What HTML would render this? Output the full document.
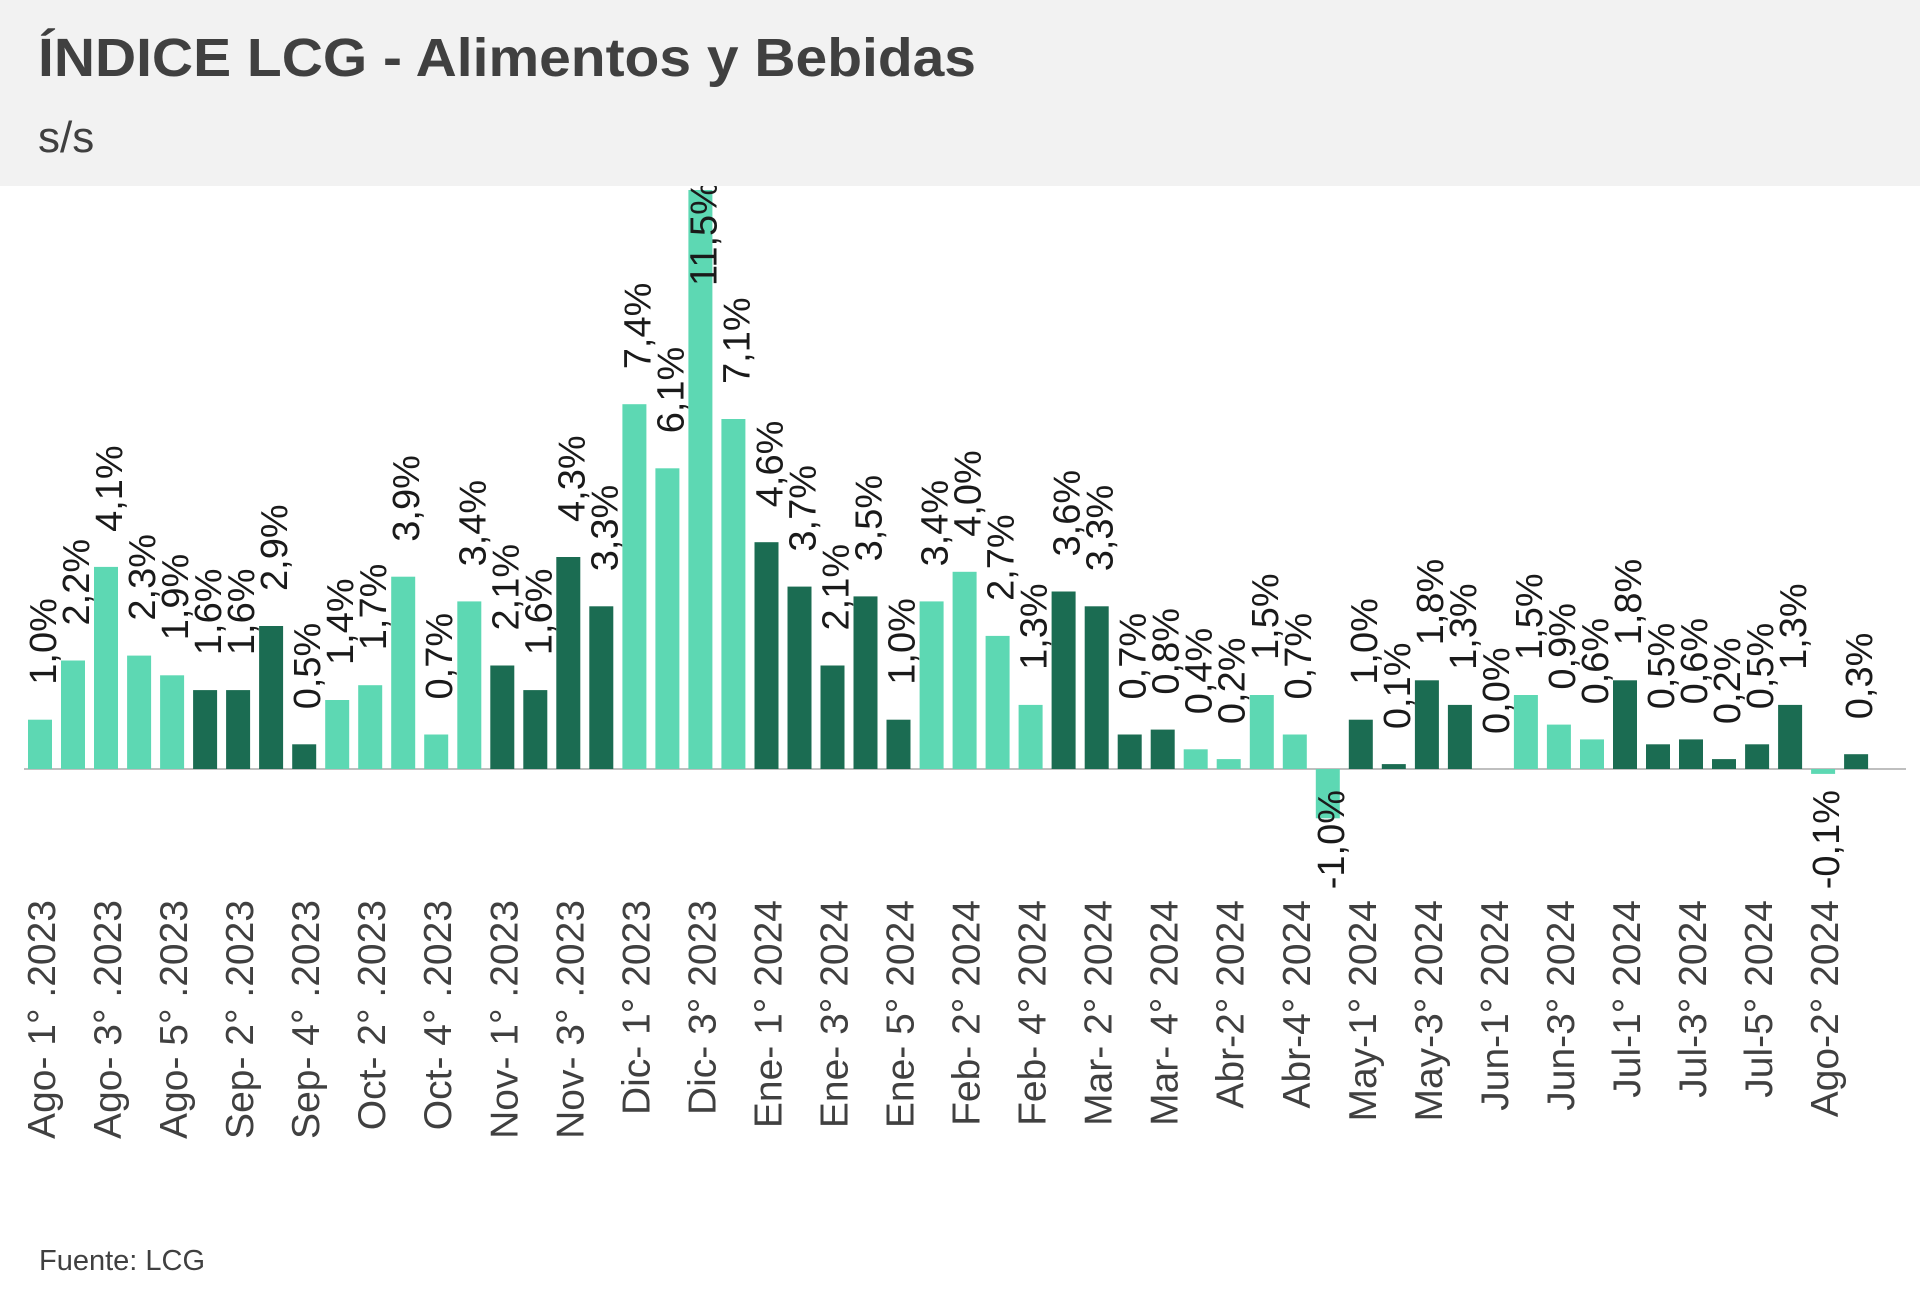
<!DOCTYPE html>
<html><head><meta charset="utf-8"><style>
html,body{margin:0;padding:0;background:#fff;}
svg{display:block;}
.v{font:38px "Liberation Sans",sans-serif;fill:#1a1a1a;}
.x{font:39px "Liberation Sans",sans-serif;fill:#404040;}
.L{fill:#5dd8b3;}.D{fill:#1b6c52;}
</style></head><body>
<svg width="1920" height="1303" viewBox="0 0 1920 1303" xmlns="http://www.w3.org/2000/svg">
<rect width="1920" height="1303" fill="#fff"/>
<line x1="24" y1="769" x2="1906" y2="769" stroke="#bfbfbf" stroke-width="2"/>
<g>
<rect class="L" x="28" y="719.7" width="24" height="49.3"/>
<rect class="L" x="61" y="660.5" width="24" height="108.5"/>
<rect class="L" x="94" y="566.9" width="24" height="202.1"/>
<rect class="L" x="127.1" y="655.6" width="24" height="113.4"/>
<rect class="L" x="160.1" y="675.3" width="24" height="93.7"/>
<rect class="D" x="193.1" y="690.1" width="24" height="78.9"/>
<rect class="D" x="226.1" y="690.1" width="24" height="78.9"/>
<rect class="D" x="259.1" y="626" width="24" height="143"/>
<rect class="D" x="292.2" y="744.3" width="24" height="24.7"/>
<rect class="L" x="325.2" y="700" width="24" height="69"/>
<rect class="L" x="358.2" y="685.2" width="24" height="83.8"/>
<rect class="L" x="391.2" y="576.7" width="24" height="192.3"/>
<rect class="L" x="424.2" y="734.5" width="24" height="34.5"/>
<rect class="L" x="457.3" y="601.4" width="24" height="167.6"/>
<rect class="D" x="490.3" y="665.5" width="24" height="103.5"/>
<rect class="D" x="523.3" y="690.1" width="24" height="78.9"/>
<rect class="D" x="556.3" y="557" width="24" height="212"/>
<rect class="D" x="589.3" y="606.3" width="24" height="162.7"/>
<rect class="L" x="622.4" y="404.2" width="24" height="364.8"/>
<rect class="L" x="655.4" y="468.3" width="24" height="300.7"/>
<rect class="L" x="688.4" y="190" width="24" height="579"/>
<rect class="L" x="721.4" y="419" width="24" height="350"/>
<rect class="D" x="754.5" y="542.2" width="24" height="226.8"/>
<rect class="D" x="787.5" y="586.6" width="24" height="182.4"/>
<rect class="D" x="820.5" y="665.5" width="24" height="103.5"/>
<rect class="D" x="853.5" y="596.4" width="24" height="172.6"/>
<rect class="D" x="886.5" y="719.7" width="24" height="49.3"/>
<rect class="L" x="919.6" y="601.4" width="24" height="167.6"/>
<rect class="L" x="952.6" y="571.8" width="24" height="197.2"/>
<rect class="L" x="985.6" y="635.9" width="24" height="133.1"/>
<rect class="L" x="1018.6" y="704.9" width="24" height="64.1"/>
<rect class="D" x="1051.6" y="591.5" width="24" height="177.5"/>
<rect class="D" x="1084.7" y="606.3" width="24" height="162.7"/>
<rect class="D" x="1117.7" y="734.5" width="24" height="34.5"/>
<rect class="D" x="1150.7" y="729.6" width="24" height="39.4"/>
<rect class="L" x="1183.7" y="749.3" width="24" height="19.7"/>
<rect class="L" x="1216.7" y="759.1" width="24" height="9.9"/>
<rect class="L" x="1249.8" y="695" width="24" height="74"/>
<rect class="L" x="1282.8" y="734.5" width="24" height="34.5"/>
<rect class="L" x="1315.8" y="769" width="24" height="49.3"/>
<rect class="D" x="1348.8" y="719.7" width="24" height="49.3"/>
<rect class="D" x="1381.8" y="764.1" width="24" height="4.9"/>
<rect class="D" x="1414.9" y="680.3" width="24" height="88.7"/>
<rect class="D" x="1447.9" y="704.9" width="24" height="64.1"/>
<rect class="L" x="1513.9" y="695" width="24" height="74"/>
<rect class="L" x="1546.9" y="724.6" width="24" height="44.4"/>
<rect class="L" x="1580" y="739.4" width="24" height="29.6"/>
<rect class="D" x="1613" y="680.3" width="24" height="88.7"/>
<rect class="D" x="1646" y="744.3" width="24" height="24.7"/>
<rect class="D" x="1679" y="739.4" width="24" height="29.6"/>
<rect class="D" x="1712" y="759.1" width="24" height="9.9"/>
<rect class="D" x="1745.1" y="744.3" width="24" height="24.7"/>
<rect class="D" x="1778.1" y="704.9" width="24" height="64.1"/>
<rect class="L" x="1811.1" y="769" width="24" height="4.9"/>
<rect class="D" x="1844.1" y="754.2" width="24" height="14.8"/>
</g>
<g class="v">
<text transform="translate(56,684.7) rotate(-90)">1,0%</text>
<text transform="translate(89,625.5) rotate(-90)">2,2%</text>
<text transform="translate(122,531.9) rotate(-90)">4,1%</text>
<text transform="translate(155.1,620.6) rotate(-90)">2,3%</text>
<text transform="translate(188.1,640.3) rotate(-90)">1,9%</text>
<text transform="translate(221.1,655.1) rotate(-90)">1,6%</text>
<text transform="translate(254.1,655.1) rotate(-90)">1,6%</text>
<text transform="translate(287.1,591) rotate(-90)">2,9%</text>
<text transform="translate(320.2,709.3) rotate(-90)">0,5%</text>
<text transform="translate(353.2,665) rotate(-90)">1,4%</text>
<text transform="translate(386.2,650.2) rotate(-90)">1,7%</text>
<text transform="translate(419.2,541.7) rotate(-90)">3,9%</text>
<text transform="translate(452.2,699.5) rotate(-90)">0,7%</text>
<text transform="translate(485.3,566.4) rotate(-90)">3,4%</text>
<text transform="translate(518.3,630.5) rotate(-90)">2,1%</text>
<text transform="translate(551.3,655.1) rotate(-90)">1,6%</text>
<text transform="translate(584.3,522) rotate(-90)">4,3%</text>
<text transform="translate(617.3,571.3) rotate(-90)">3,3%</text>
<text transform="translate(650.4,369.2) rotate(-90)">7,4%</text>
<text transform="translate(683.4,433.3) rotate(-90)">6,1%</text>
<text transform="translate(716.4,286) rotate(-90)">11,5%</text>
<text transform="translate(749.4,384) rotate(-90)">7,1%</text>
<text transform="translate(782.5,507.2) rotate(-90)">4,6%</text>
<text transform="translate(815.5,551.6) rotate(-90)">3,7%</text>
<text transform="translate(848.5,630.5) rotate(-90)">2,1%</text>
<text transform="translate(881.5,561.4) rotate(-90)">3,5%</text>
<text transform="translate(914.5,684.7) rotate(-90)">1,0%</text>
<text transform="translate(947.6,566.4) rotate(-90)">3,4%</text>
<text transform="translate(980.6,536.8) rotate(-90)">4,0%</text>
<text transform="translate(1013.6,600.9) rotate(-90)">2,7%</text>
<text transform="translate(1046.6,669.9) rotate(-90)">1,3%</text>
<text transform="translate(1079.6,556.5) rotate(-90)">3,6%</text>
<text transform="translate(1112.7,571.3) rotate(-90)">3,3%</text>
<text transform="translate(1145.7,699.5) rotate(-90)">0,7%</text>
<text transform="translate(1178.7,694.6) rotate(-90)">0,8%</text>
<text transform="translate(1211.7,714.3) rotate(-90)">0,4%</text>
<text transform="translate(1244.7,724.1) rotate(-90)">0,2%</text>
<text transform="translate(1277.8,660) rotate(-90)">1,5%</text>
<text transform="translate(1310.8,699.5) rotate(-90)">0,7%</text>
<text text-anchor="end" transform="translate(1343.8,790) rotate(-90)">-1,0%</text>
<text transform="translate(1376.8,684.7) rotate(-90)">1,0%</text>
<text transform="translate(1409.8,729.1) rotate(-90)">0,1%</text>
<text transform="translate(1442.9,645.3) rotate(-90)">1,8%</text>
<text transform="translate(1475.9,669.9) rotate(-90)">1,3%</text>
<text transform="translate(1508.9,734) rotate(-90)">0,0%</text>
<text transform="translate(1541.9,660) rotate(-90)">1,5%</text>
<text transform="translate(1574.9,689.6) rotate(-90)">0,9%</text>
<text transform="translate(1608,704.4) rotate(-90)">0,6%</text>
<text transform="translate(1641,645.3) rotate(-90)">1,8%</text>
<text transform="translate(1674,709.3) rotate(-90)">0,5%</text>
<text transform="translate(1707,704.4) rotate(-90)">0,6%</text>
<text transform="translate(1740,724.1) rotate(-90)">0,2%</text>
<text transform="translate(1773.1,709.3) rotate(-90)">0,5%</text>
<text transform="translate(1806.1,669.9) rotate(-90)">1,3%</text>
<text text-anchor="end" transform="translate(1839.1,790) rotate(-90)">-0,1%</text>
<text transform="translate(1872.1,719.2) rotate(-90)">0,3%</text>
</g>
<g class="x" text-anchor="end">
<text transform="translate(55,900) rotate(-90)">Ago- 1° .2023</text>
<text transform="translate(121,900) rotate(-90)">Ago- 3° .2023</text>
<text transform="translate(187.1,900) rotate(-90)">Ago- 5° .2023</text>
<text transform="translate(253.1,900) rotate(-90)">Sep- 2° .2023</text>
<text transform="translate(319.2,900) rotate(-90)">Sep- 4° .2023</text>
<text transform="translate(385.2,900) rotate(-90)">Oct- 2° .2023</text>
<text transform="translate(451.2,900) rotate(-90)">Oct- 4° .2023</text>
<text transform="translate(517.3,900) rotate(-90)">Nov- 1° .2023</text>
<text transform="translate(583.3,900) rotate(-90)">Nov- 3° .2023</text>
<text transform="translate(649.4,900) rotate(-90)">Dic- 1° 2023</text>
<text transform="translate(715.4,900) rotate(-90)">Dic- 3° 2023</text>
<text transform="translate(781.5,900) rotate(-90)">Ene- 1° 2024</text>
<text transform="translate(847.5,900) rotate(-90)">Ene- 3° 2024</text>
<text transform="translate(913.5,900) rotate(-90)">Ene- 5° 2024</text>
<text transform="translate(979.6,900) rotate(-90)">Feb- 2° 2024</text>
<text transform="translate(1045.6,900) rotate(-90)">Feb- 4° 2024</text>
<text transform="translate(1111.7,900) rotate(-90)">Mar- 2° 2024</text>
<text transform="translate(1177.7,900) rotate(-90)">Mar- 4° 2024</text>
<text transform="translate(1243.7,900) rotate(-90)">Abr-2° 2024</text>
<text transform="translate(1309.8,900) rotate(-90)">Abr-4° 2024</text>
<text transform="translate(1375.8,900) rotate(-90)">May-1° 2024</text>
<text transform="translate(1441.9,900) rotate(-90)">May-3° 2024</text>
<text transform="translate(1507.9,900) rotate(-90)">Jun-1° 2024</text>
<text transform="translate(1573.9,900) rotate(-90)">Jun-3° 2024</text>
<text transform="translate(1640,900) rotate(-90)">Jul-1° 2024</text>
<text transform="translate(1706,900) rotate(-90)">Jul-3° 2024</text>
<text transform="translate(1772.1,900) rotate(-90)">Jul-5° 2024</text>
<text transform="translate(1838.1,900) rotate(-90)">Ago-2° 2024</text>
</g>
<rect x="0" y="0" width="1920" height="186" fill="#f2f2f2"/>
<text x="38" y="76" textLength="938" lengthAdjust="spacingAndGlyphs" style="font:bold 54px 'Liberation Sans',sans-serif;fill:#404040">ÍNDICE LCG - Alimentos y Bebidas</text>
<text x="38" y="152" style="font:44px 'Liberation Sans',sans-serif;fill:#404040">s/s</text>
<text x="39" y="1270" style="font:29px 'Liberation Sans',sans-serif;fill:#404040">Fuente: LCG</text>
</svg>
</body></html>
